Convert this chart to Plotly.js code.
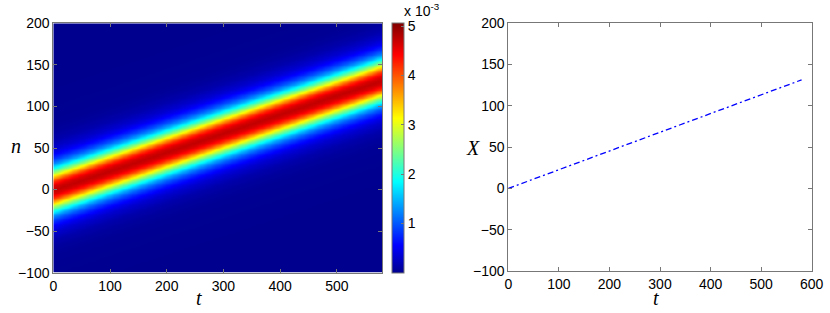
<!DOCTYPE html>
<html>
<head>
<meta charset="utf-8">
<script src="https://cdn.plot.ly/plotly-3.0.1.min.js"></script>
<style>html,body{margin:0;padding:0;background:#fff;}#chart{width:830px;height:313px;}</style>
</head>
<body>
<div id="chart"></div>
<script>
// Centre of the travelling pulse
const tTrack = [0, 100, 200, 300, 400, 500, 580];
const XTrack = [0, 22.6, 45.2, 67.9, 90.5, 113.2, 131.5];

// Cross-section of the pulse (value in units of 1e-3) vs distance from its centre
const offsets = [0, 5, 10, 15, 20, 25, 30, 35, 40, 45, 50, 60, 70, 80, 100, 130, 400];
const profile = [4.75, 4.6, 4.2, 3.5, 2.7, 2.0, 1.4, 0.98, 0.68, 0.47, 0.32, 0.15, 0.07, 0.03, 0.008, 0.001, 0];

// Tick labels
const xTicksLeft = [0, 100, 200, 300, 400, 500];
const xTicksRight = [0, 100, 200, 300, 400, 500, 600];
const yTicks = [-100, -50, 0, 50, 100, 150, 200];
const cbTicks = [1, 2, 3, 4, 5];

function lerp(xs, ys, x) {
  if (x <= xs[0]) return ys[0];
  for (let i = 1; i < xs.length; i++) {
    if (x <= xs[i]) {
      const f = (x - xs[i-1]) / (xs[i] - xs[i-1]);
      return ys[i-1] + f * (ys[i] - ys[i-1]);
    }
  }
  return ys[ys.length - 1];
}

// Build the heatmap table from the track and the cross-section
const tGrid = [];
for (let t = 0; t <= 580; t += 4) tGrid.push(t);
const nGrid = [];
for (let n = -100; n <= 200; n += 2) nGrid.push(n);
const z = nGrid.map(n => tGrid.map(t => {
  const c = lerp(tTrack, XTrack, t);
  return lerp(offsets, profile, Math.abs(n - c)) * 1e-3;
}));

const jet = [
  [0, 'rgb(0,0,143)'], [0.111, 'rgb(0,0,255)'], [0.365, 'rgb(0,255,255)'],
  [0.619, 'rgb(255,255,0)'], [0.873, 'rgb(255,0,0)'], [1, 'rgb(128,0,0)']
];

const W = 830, H = 313;
const tickFont = {family: 'Liberation Sans, Arial, sans-serif', size: 14, color: '#000'};
const axCol = '#777';
const titleFont = {family: 'Liberation Serif, Times New Roman, serif', size: 20, style: 'italic', color: '#000'};

function axisBase(extra) {
  return Object.assign({
    ticks: 'inside', ticklen: 4, tickcolor: axCol, tickwidth: 1,
    showline: true, linecolor: axCol, linewidth: 1, mirror: 'allticks',
    showgrid: false, zeroline: false, tickfont: tickFont, fixedrange: true
  }, extra);
}

const traces = [
  {
    type: 'heatmap', x: tGrid, y: nGrid, z: z,
    colorscale: jet, zmin: 0, zmax: 5.07e-3, zsmooth: 'best',
    xaxis: 'x', yaxis: 'y', hoverinfo: 'skip',
    colorbar: {
      x: 391.7 / W, xanchor: 'left', xpad: 0,
      y: 1 - 272.7 / H, yanchor: 'bottom', ypad: 0,
      len: 250 / H, lenmode: 'fraction',
      thickness: 12, thicknessmode: 'pixels',
      outlinewidth: 1, outlinecolor: axCol,
      ticks: 'inside', ticklen: 3, tickcolor: axCol,
      tickvals: cbTicks.map(v => v * 1e-3), ticktext: cbTicks.map(String),
      tickfont: tickFont
    }
  },
  {
    type: 'scatter', mode: 'lines', x: tTrack, y: XTrack,
    xaxis: 'x2', yaxis: 'y2', hoverinfo: 'skip',
    line: {color: 'rgb(0,0,255)', width: 1.3, dash: '6px,3px,2px,3px'}
  }
];

const layout = {
  width: W, height: H,
  margin: {l: 0, r: 0, t: 0, b: 0},
  paper_bgcolor: '#fff', plot_bgcolor: '#fff',
  showlegend: false,
  xaxis: axisBase({domain: [53.3 / W, 382.3 / W], range: [0, 580], tickvals: xTicksLeft, anchor: 'y'}),
  yaxis: axisBase({domain: [1 - 272.7 / H, 1 - 23.3 / H], range: [-100, 200], tickvals: yTicks, anchor: 'x'}),
  xaxis2: axisBase({domain: [508.3 / W, 811.7 / W], range: [0, 600], tickvals: xTicksRight, anchor: 'y2'}),
  yaxis2: axisBase({domain: [1 - 271 / H, 1 - 23.3 / H], range: [-100, 200], tickvals: yTicks, anchor: 'x2'}),
  annotations: [
    {text: 'n', x: 16 / W, y: 1 - 146 / H, xref: 'paper', yref: 'paper', showarrow: false,
     xanchor: 'center', yanchor: 'middle', font: titleFont},
    {text: 't', x: 199 / W, y: 1 - 298 / H, xref: 'paper', yref: 'paper', showarrow: false,
     xanchor: 'center', yanchor: 'middle', font: titleFont},
    {text: 'X', x: 473 / W, y: 1 - 148 / H, xref: 'paper', yref: 'paper', showarrow: false,
     xanchor: 'center', yanchor: 'middle', font: titleFont},
    {text: 't', x: 656 / W, y: 1 - 298 / H, xref: 'paper', yref: 'paper', showarrow: false,
     xanchor: 'center', yanchor: 'middle', font: titleFont},
    {text: 'x 10<sup>-3</sup>', x: 402 / W, y: 1 - 21 / H, xref: 'paper', yref: 'paper', showarrow: false,
     xanchor: 'left', yanchor: 'bottom', font: tickFont}
  ]
};

Plotly.newPlot('chart', traces, layout, {displayModeBar: false, staticPlot: true});
</script>
</body>
</html>
